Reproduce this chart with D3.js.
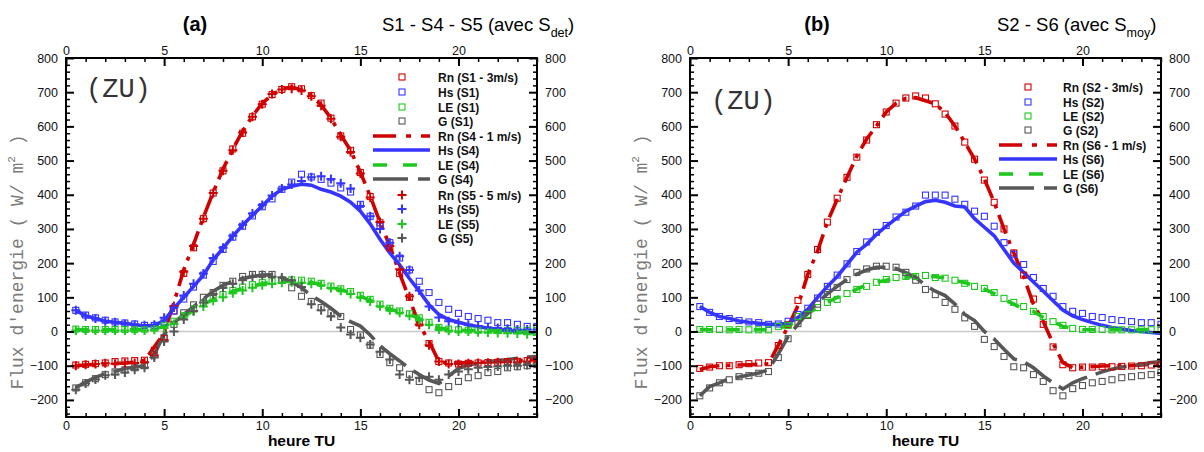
<!DOCTYPE html>
<html><head><meta charset="utf-8">
<script src="https://cdn.jsdelivr.net/npm/d3@7"></script>
<style>body{margin:0;background:#fff;} svg{display:block;}</style>
</head><body><svg id="c" width="1204" height="452"></svg>
<script>
// ---------- DATA ----------
const hours = [0.5,1,1.5,2,2.5,3,3.5,4,4.5,5,5.5,6,6.5,7,7.5,8,8.5,9,9.5,10,10.5,11,11.5,12,
               12.5,13,13.5,14,14.5,15,15.5,16,16.5,17,17.5,18,18.5,19,19.5,20,20.5,21,21.5,22,22.5,23,23.5,24];
const xTicks = [0,5,10,15,20];
const yTicks = [-200,-100,0,100,200,300,400,500,600,700,800];

// Panel (a) : S1 (squares)
const rnS1 = [-98,-96,-94,-92,-88,-86,-85,-84,-55,-20,60,170,245,330,405,470,534,580,628,665,693,708,716,710,
              690,668,624,572,530,465,395,318,245,170,100,25,-35,-88,-92,-95,-93,-92,-91,-90,-88,-87,-85,-83];
const hsS1 = [62,48,40,33,28,25,22,18,18,28,60,95,130,165,205,240,276,308,338,365,388,416,437,460,
              452,445,434,420,408,372,337,308,260,215,180,147,114,85,65,53,44,38,33,26,26,21,15,15];
const leS1 = [7,6,6,6,6,6,6,7,10,18,30,46,66,84,97,108,120,130,137,143,147,150,151,150,
              147,141,133,125,117,106,94,80,68,60,52,40,27,12,7,5,4,4,4,3,3,3,3,3];
const gS1  = [-165,-150,-138,-126,-118,-112,-106,-100,-67,-18,21,55,78,100,114,135,147,161,167,167,167,150,128,103,
              88,70,55,44,6,-10,-40,-67,-91,-106,-125,-146,-170,-179,-161,-146,-135,-129,-120,-117,-106,-103,-100,-97];
// Panel (a) : S4 (lines)
const rnS4 = [-100,-98,-96,-95,-94,-92,-90,-85,-45,-5,85,180,255,334,407,475,534,586,630,668,692,710,715,707,
              689,663,624,575,530,466,396,320,250,170,95,20,-29,-88,-92,-92,-91,-90,-89,-88,-86,-85,-83,-82];
const hsS4 = [62,46,38,30,27,24,20,16,18,32,68,100,132,165,210,243,279,311,340,367,396,416,425,431,
              428,416,408,396,378,352,315,270,230,195,155,118,78,50,35,27,20,14,10,6,3,0,-2,-3];
const leS4 = [6,5,5,5,5,5,5,6,8,15,27,43,62,80,93,105,117,126,133,140,144,147,148,147,
              143,138,130,122,114,103,91,77,65,58,50,38,24,10,6,4,3,3,3,2,2,2,2,2];
const gS4  = [-164,-148,-134,-123,-116,-108,-104,-100,-67,-8,25,50,73,95,118,135,147,155,161,165,166,158,145,128,
              105,88,68,45,29,16,-10,-42,-65,-86,-108,-126,-142,-152,-130,-108,-98,-92,-88,-85,-82,-78,-75,-73];
// Panel (a) : S5 (plus)
const rnS5 = [-100,-97,-95,-93,-94,-92,-92,-90,-70,-25,75,175,250,330,405,470,530,582,628,665,695,708,710,705,
              688,660,622,570,525,462,392,320,250,182,103,20,-40,-88,-95,-95,-93,-92,-91,-90,-90,-90,-88,-88];
const hsS5 = [62,45,38,30,27,22,20,18,20,40,70,105,140,170,215,245,280,312,345,370,398,418,430,440,
              451,454,446,434,418,367,337,300,260,220,180,120,73,41,30,26,20,16,12,10,8,6,6,6];
const leS5 = [3,3,3,3,3,3,3,3,5,10,22,44,59,73,90,100,112,120,128,135,140,143,144,143,
              140,135,127,119,110,100,88,74,62,55,46,34,20,6,2,0,0,-2,-3,-4,-5,-6,-8,-10];
const gS5  = [-170,-152,-140,-128,-126,-120,-112,-106,-76,-29,0,35,60,85,110,128,140,150,160,165,160,158,150,130,
              80,62,44,12,-9,-18,-38,-59,-82,-126,-141,-135,-132,-141,-126,-117,-110,-106,-104,-102,-100,-100,-98,-96];

// Panel (b) : S2 (squares)
const rnS2 = [-108,-104,-100,-100,-97,-94,-92,-91,-41,20,91,167,240,320,390,451,510,560,605,642,668,683,689,683,
              666,636,601,554,504,443,378,300,230,165,95,21,-45,-97,-106,-104,-104,-103,-103,-102,-101,-100,-98,-97];
const hsS2 = [73,56,44,38,32,28,26,21,22,30,50,68,98,132,165,198,234,262,290,310,335,349,367,399,
              399,399,387,372,352,337,308,260,226,196,158,126,103,73,59,53,44,41,35,32,29,26,26,21];
const leS2 = [6,6,6,5,6,5,5,5,15,18,44,50,70,85,94,111,123,132,144,152,158,161,161,164,
              158,156,150,141,132,126,114,97,85,73,59,44,29,18,9,6,6,6,5,5,5,5,5,5];
const gS2  = [-188,-165,-150,-141,-132,-129,-122,-117,-76,-21,23,47,80,108,129,152,173,183,191,191,188,173,150,123,
              108,85,65,40,15,-23,-44,-73,-103,-106,-126,-146,-173,-188,-167,-158,-150,-146,-141,-135,-132,-129,-126,-120];
// Panel (b) : S6 (lines)
const rnS6 = [-111,-103,-100,-99,-98,-97,-96,-94,-40,15,75,167,235,320,387,451,513,563,601,642,668,682,684,675,
              666,640,601,554,504,446,378,300,230,161,80,29,-35,-91,-106,-104,-103,-101,-100,-100,-100,-98,-96,-94];
const hsS6 = [73,56,44,38,31,27,24,21,21,24,41,65,100,132,161,196,232,255,284,308,330,352,367,380,
              384,378,367,364,330,305,280,240,200,173,145,118,90,63,46,35,26,18,12,7,3,0,-3,-6];
const leS6 = [6,5,5,5,5,5,5,5,10,17,32,52,70,85,100,108,124,136,144,150,156,159,162,163,
              160,157,150,143,135,124,111,94,80,65,59,41,29,15,9,6,5,5,5,5,5,5,5,5];
const gS6  = [-188,-161,-150,-138,-133,-127,-121,-112,-65,-15,21,55,85,110,132,152,168,180,188,188,184,172,158,135,
              118,105,80,50,32,0,-22,-52,-80,-88,-106,-130,-150,-168,-150,-138,-128,-118,-110,-104,-100,-96,-91,-88];

// ---------- STYLE ----------
const RED = "#d00000", BLUE = "#3535ff", GREEN = "#1ec81e", GRAY = "#575757";
const DASH = {rn: "20,7,4,7", hs: null, le: "13,14", g: "32,9"};

const svg = d3.select("#c");

function drawPanel(cfg) {
  const x = d3.scaleLinear().domain([0, 24]).range([cfg.left, cfg.right]);
  const y = d3.scaleLinear().domain([-250, 800]).range([cfg.bottom, cfg.top]);
  const g = svg.append("g");

  g.append("line").attr("x1", cfg.left).attr("x2", cfg.right)
    .attr("y1", y(0)).attr("y2", y(0)).attr("stroke", "#c8c8c8").attr("stroke-width", 1.6);

  const clipId = "clip" + cfg.id;
  svg.append("clipPath").attr("id", clipId).append("rect")
    .attr("x", cfg.left).attr("y", cfg.top).attr("width", cfg.right - cfg.left).attr("height", cfg.bottom - cfg.top);
  const plot = g.append("g").attr("clip-path", `url(#${clipId})`);

  const line = d3.line().x(d => x(d[0])).y(d => y(d[1]));
  cfg.series.forEach(s => {
    const pts = hours.map((h, i) => [h, s.vals[i]]);
    if (s.type === "line") {
      plot.append("path").datum(pts).attr("d", line).attr("fill", "none")
        .attr("stroke", s.color).attr("stroke-width", 3.6)
        .attr("stroke-dasharray", s.dash);
    }
  });
  cfg.series.forEach(s => {
    const pts = hours.map((h, i) => [h, s.vals[i]]);
    if (s.type === "square") {
      plot.selectAll(null).data(pts).join("rect")
        .attr("x", d => x(d[0]) - 3).attr("y", d => y(d[1]) - 3)
        .attr("width", 6).attr("height", 6)
        .attr("fill", "none").attr("stroke", s.color).attr("stroke-width", 1.1);
    } else if (s.type === "plus") {
      plot.selectAll(null).data(pts).join("path")
        .attr("d", d => `M${x(d[0]) - 4.5},${y(d[1])}h9M${x(d[0])},${y(d[1]) - 4.5}v9`)
        .attr("stroke", s.color).attr("stroke-width", 2).attr("fill", "none");
    }
  });

  const minorX = d3.range(0, 25, 1).filter(v => v % 5 !== 0);
  const minorY = d3.range(-240, 801, 20).filter(v => v % 100 !== 0);
  const tickFont = g => g.selectAll("text").attr("font-family", "Liberation Sans, Arial, sans-serif")
    .attr("font-size", 12.5).attr("fill", "#111");
  const axes = [
    [d3.axisBottom(x).tickValues(xTicks).tickSize(-8).tickPadding(4), d3.axisBottom(x).tickValues(minorX).tickSize(-4), `translate(0,${cfg.bottom})`],
    [d3.axisTop(x).tickValues(xTicks).tickSize(-8).tickPadding(3), d3.axisTop(x).tickValues(minorX).tickSize(-4), `translate(0,${cfg.top})`],
    [d3.axisLeft(y).tickValues(yTicks).tickSize(-8).tickPadding(8), d3.axisLeft(y).tickValues(minorY).tickSize(-4), `translate(${cfg.left},0)`],
    [d3.axisRight(y).tickValues(yTicks).tickSize(-8).tickPadding(8), d3.axisRight(y).tickValues(minorY).tickSize(-4), `translate(${cfg.right},0)`]
  ];
  axes.forEach(([maj, min, tr]) => {
    const a = g.append("g").attr("transform", tr).call(maj.tickSizeOuter(0)).call(tickFont);
    a.select(".domain").remove();
    a.selectAll("line").attr("stroke", "#000").attr("stroke-width", 2);
    const b = g.append("g").attr("transform", tr).call(min.tickSizeOuter(0).tickFormat(""));
    b.select(".domain").remove();
    b.selectAll("line").attr("stroke", "#000").attr("stroke-width", 1.5);
  });
  g.append("rect").attr("x", cfg.left).attr("y", cfg.top)
    .attr("width", cfg.right - cfg.left).attr("height", cfg.bottom - cfg.top)
    .attr("fill", "none").attr("stroke", "#000").attr("stroke-width", 2);

  g.append("text").attr("x", (cfg.left + cfg.right) / 2).attr("y", 446)
    .attr("text-anchor", "middle").attr("font-family", "Liberation Sans, Arial, sans-serif")
    .attr("font-weight", "bold").attr("font-size", 15.5).text("heure TU");
  const yt = g.append("text").attr("transform", `translate(${cfg.left - 43},262) rotate(-90)`)
    .attr("text-anchor", "middle").attr("font-family", "Liberation Mono, Courier New, monospace")
    .attr("font-size", 18).attr("fill", "#7a7a7a");
  yt.append("tspan").text("Flux d'energie ( W/ m");
  yt.append("tspan").attr("dy", -8).attr("font-size", 11).text("2");
  yt.append("tspan").attr("dy", 8).text(" )");

  g.append("text").attr("x", cfg.labX).attr("y", 31).attr("text-anchor", "middle")
    .attr("font-family", "Liberation Sans, Arial, sans-serif").attr("font-weight", "bold")
    .attr("font-size", 20).text(cfg.label);
  const tt = g.append("text").attr("x", cfg.titleX).attr("y", 31)
    .attr("font-family", "Liberation Sans, Arial, sans-serif").attr("font-size", 18.5);
  tt.append("tspan").text(cfg.title);
  tt.append("tspan").attr("dy", 6).attr("font-size", 12.5).text(cfg.sub);
  tt.append("tspan").attr("dy", -6).text(")");

  g.append("text").attr("x", cfg.zuX).attr("y", cfg.zuY)
    .attr("font-family", "Liberation Mono, Courier New, monospace").attr("font-size", 27)
    .attr("fill", "#333").text("(ZU)");

  cfg.series.forEach((s, i) => {
    const ly = cfg.legY[i];
    if (s.type === "line") {
      g.append("line").attr("x1", cfg.legLine[0]).attr("x2", cfg.legLine[1]).attr("y1", ly).attr("y2", ly)
        .attr("stroke", s.color).attr("stroke-width", 3.6).attr("stroke-dasharray", s.legDash || s.dash);
    } else if (s.type === "square") {
      g.append("rect").attr("x", cfg.legMark - 3).attr("y", ly - 3).attr("width", 6).attr("height", 6)
        .attr("fill", "none").attr("stroke", s.color).attr("stroke-width", 1.1);
    } else {
      g.append("path").attr("d", `M${cfg.legMark - 4.5},${ly}h9M${cfg.legMark},${ly - 4.5}v9`)
        .attr("stroke", s.color).attr("stroke-width", 2);
    }
    g.append("text").attr("x", cfg.legText).attr("y", ly + 4.5)
      .attr("font-family", "Liberation Sans, Arial, sans-serif").attr("font-weight", "bold")
      .attr("font-size", 12).attr("fill", "#111").text(s.name);
  });
}

drawPanel({
  id: "a", left: 66, right: 537, top: 58, bottom: 417,
  label: "(a)", labX: 195, title: "S1 - S4 - S5 (avec S", sub: "det", titleX: 382,
  zuX: 86, zuY: 97,
  legLine: [373, 430], legMark: 402, legText: 438,
  legY: [77, 92, 107, 121, 136, 150, 165, 179, 195, 209, 224, 238],
  series: [
    {name: "Rn (S1 - 3m/s)", type: "square", color: RED, vals: rnS1},
    {name: "Hs (S1)", type: "square", color: BLUE, vals: hsS1},
    {name: "LE (S1)", type: "square", color: GREEN, vals: leS1},
    {name: "G (S1)", type: "square", color: GRAY, vals: gS1},
    {name: "Rn (S4 - 1 m/s)", type: "line", color: RED, dash: DASH.rn, legDash: "23,10,5,10", vals: rnS4},
    {name: "Hs (S4)", type: "line", color: BLUE, dash: DASH.hs, vals: hsS4},
    {name: "LE (S4)", type: "line", color: GREEN, dash: DASH.le, legDash: "14,16", vals: leS4},
    {name: "G (S4)", type: "line", color: GRAY, dash: DASH.g, legDash: "35,10", vals: gS4},
    {name: "Rn (S5  - 5 m/s)", type: "plus", color: RED, vals: rnS5},
    {name: "Hs (S5)", type: "plus", color: BLUE, vals: hsS5},
    {name: "LE (S5)", type: "plus", color: GREEN, vals: leS5},
    {name: "G (S5)", type: "plus", color: GRAY, vals: gS5}
  ]
});

drawPanel({
  id: "b", left: 690, right: 1161, top: 58, bottom: 417,
  label: "(b)", labX: 817, title: "S2 - S6 (avec S", sub: "moy", titleX: 997,
  zuX: 711, zuY: 109,
  legLine: [999, 1057], legMark: 1028, legText: 1063,
  legY: [87, 102, 116, 130, 145, 159, 174, 188],
  series: [
    {name: "Rn (S2 - 3m/s)", type: "square", color: RED, vals: rnS2},
    {name: "Hs (S2)", type: "square", color: BLUE, vals: hsS2},
    {name: "LE (S2)", type: "square", color: GREEN, vals: leS2},
    {name: "G (S2)", type: "square", color: GRAY, vals: gS2},
    {name: "Rn (S6 - 1 m/s)", type: "line", color: RED, dash: DASH.rn, legDash: "23,10,5,10", vals: rnS6},
    {name: "Hs (S6)", type: "line", color: BLUE, dash: DASH.hs, vals: hsS6},
    {name: "LE (S6)", type: "line", color: GREEN, dash: DASH.le, legDash: "14,16", vals: leS6},
    {name: "G (S6)", type: "line", color: GRAY, dash: DASH.g, legDash: "35,10", vals: gS6}
  ]
});
</script>
</body></html>
